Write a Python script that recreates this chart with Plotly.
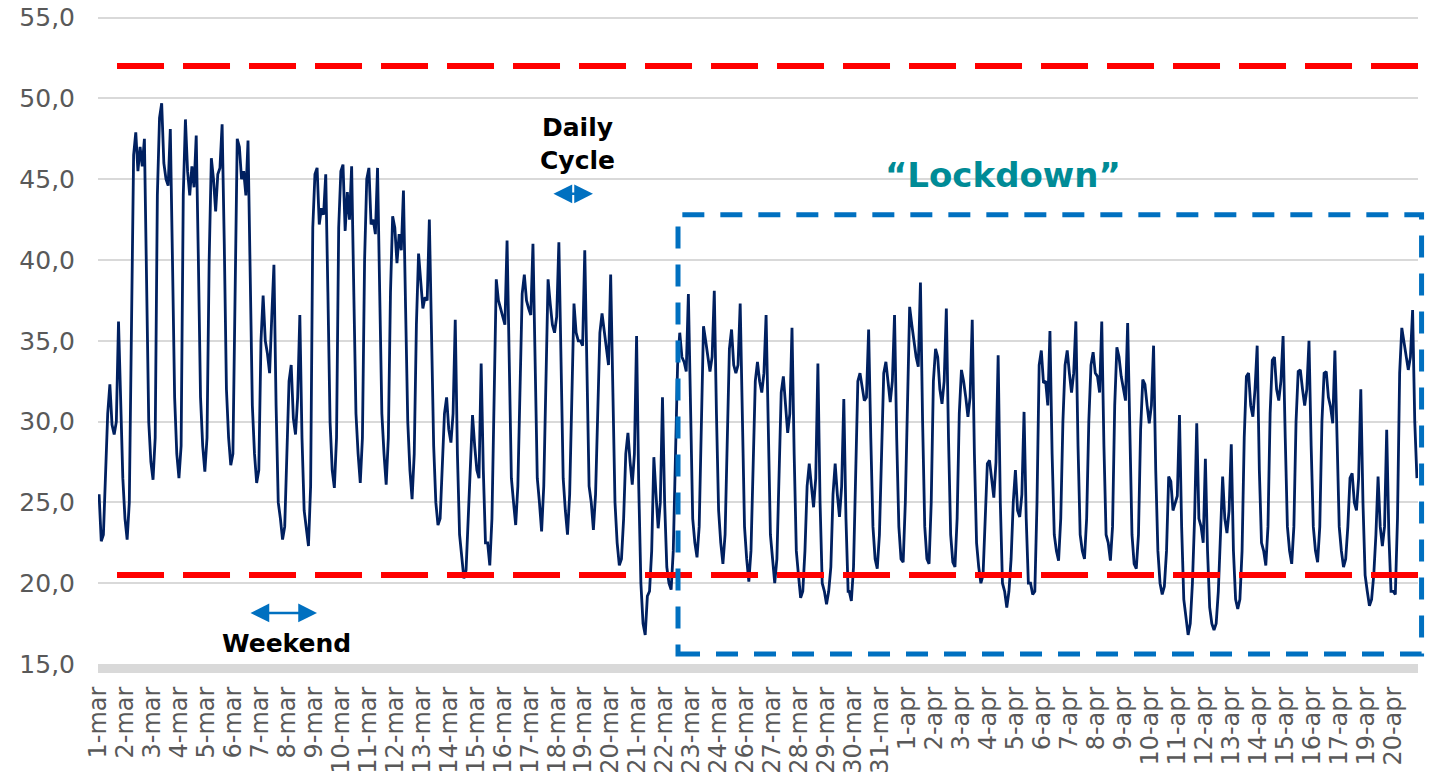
import plotly.graph_objects as go

# ---------------- data ----------------
# hourly-index sample positions within each day (local clock hours)
sample_hours = [1, 3, 5, 7, 9, 11, 13, 15, 17, 19, 21, 23]
# day index from which the series is on summer time (one hour less in the index)
dst_from_day = 29

day_names = [
    "1-mar", "2-mar", "3-mar", "4-mar", "5-mar", "6-mar", "7-mar", "8-mar", "9-mar", "10-mar",
    "11-mar", "12-mar", "13-mar", "14-mar", "15-mar", "16-mar", "17-mar", "18-mar", "19-mar", "20-mar",
    "21-mar", "22-mar", "23-mar", "24-mar", "25-mar", "26-mar", "27-mar", "28-mar", "29-mar", "30-mar",
    "31-mar", "1-apr", "2-apr", "3-apr", "4-apr", "5-apr", "6-apr", "7-apr", "8-apr", "9-apr",
    "10-apr", "11-apr", "12-apr", "13-apr", "14-apr", "15-apr", "16-apr", "17-apr", "18-apr", "19-apr",
    "20-apr",
]

day_profiles = [
    [25.5, 22.6, 23.0, 26.5, 30.5, 32.3, 29.8, 29.2, 30.0, 36.2, 31.5, 26.5],  # 1-mar
    [24.0, 22.7, 25.0, 38.0, 46.5, 47.9, 45.5, 47.0, 45.8, 47.5, 38.0, 30.0],  # 2-mar
    [27.5, 26.4, 29.0, 44.0, 48.8, 49.7, 46.0, 45.0, 44.6, 48.1, 40.0, 31.5],  # 3-mar
    [28.0, 26.5, 28.5, 44.0, 48.7, 45.5, 44.0, 45.8, 44.5, 47.7, 40.0, 31.5],  # 4-mar
    [28.5, 26.9, 29.0, 40.0, 46.3, 45.0, 43.0, 45.3, 45.7, 48.4, 41.0, 32.0],  # 5-mar
    [29.0, 27.3, 28.0, 38.0, 47.5, 47.0, 45.0, 45.5, 44.0, 47.4, 40.0, 31.0],  # 6-mar
    [28.0, 26.2, 27.0, 35.0, 37.8, 35.0, 34.2, 33.0, 36.5, 39.7, 31.0, 25.0],  # 7-mar
    [24.0, 22.7, 23.5, 28.0, 32.5, 33.5, 30.2, 29.2, 31.5, 36.6, 29.0, 24.5],  # 8-mar
    [23.5, 22.3, 26.0, 42.0, 45.3, 45.7, 42.2, 43.2, 42.8, 45.3, 38.0, 30.0],  # 9-mar
    [27.0, 25.9, 29.0, 42.0, 45.5, 45.9, 41.8, 44.2, 42.5, 45.8, 38.0, 30.5],  # 10-mar
    [28.0, 26.2, 29.0, 40.0, 45.0, 45.7, 42.2, 42.5, 41.6, 45.7, 38.0, 30.5],  # 11-mar
    [28.0, 26.1, 29.0, 38.0, 42.7, 42.0, 39.8, 41.6, 40.6, 44.3, 37.0, 30.0],  # 12-mar
    [27.0, 25.2, 28.0, 36.0, 40.4, 38.5, 37.0, 37.7, 37.5, 42.5, 35.0, 28.5],  # 13-mar
    [25.0, 23.6, 24.0, 27.0, 30.5, 31.5, 29.5, 28.7, 30.5, 36.3, 28.0, 23.0],  # 14-mar
    [21.5, 20.3, 20.8, 24.0, 28.0, 30.4, 28.5, 27.0, 26.5, 33.6, 27.0, 22.5],  # 15-mar
    [22.5, 21.1, 24.0, 32.0, 38.8, 37.5, 37.0, 36.5, 36.0, 41.2, 33.0, 26.5],  # 16-mar
    [25.0, 23.6, 26.0, 32.0, 37.9, 39.1, 37.5, 37.0, 36.6, 41.0, 33.0, 26.5],  # 17-mar
    [25.0, 23.2, 26.0, 33.0, 38.8, 37.3, 36.0, 35.5, 36.5, 41.1, 33.0, 26.5],  # 18-mar
    [24.5, 23.0, 25.5, 32.0, 37.3, 35.5, 35.0, 35.0, 34.7, 40.6, 32.5, 26.0],  # 19-mar
    [25.0, 23.3, 25.5, 31.0, 35.5, 36.7, 35.5, 34.5, 33.5, 39.1, 31.5, 25.0],  # 20-mar
    [22.5, 21.1, 21.5, 24.0, 28.0, 29.3, 27.5, 26.1, 28.0, 35.3, 26.0, 20.0],  # 21-mar
    [17.5, 16.8, 19.2, 19.5, 22.0, 27.8, 25.5, 23.4, 25.0, 31.5, 25.0, 21.0],  # 22-mar
    [20.0, 19.6, 22.0, 28.0, 33.5, 35.5, 34.0, 33.7, 33.1, 37.9, 30.0, 24.0],  # 23-mar
    [22.5, 21.6, 23.5, 30.0, 35.9, 35.0, 34.0, 33.1, 34.0, 38.1, 30.5, 24.5],  # 24-mar
    [22.5, 21.2, 23.0, 29.0, 34.5, 35.7, 33.5, 33.0, 33.5, 37.3, 30.0, 23.5],  # 25-mar
    [21.5, 20.1, 22.0, 27.5, 32.5, 33.7, 32.5, 31.8, 33.0, 36.6, 29.0, 23.0],  # 26-mar
    [21.5, 20.0, 21.5, 27.0, 31.8, 32.8, 31.0, 29.3, 30.5, 35.8, 28.0, 22.0],  # 27-mar
    [20.5, 19.1, 19.5, 22.0, 26.0, 27.4, 26.0, 24.7, 26.5, 33.6, 25.0, 20.0],  # 28-mar
    [19.5, 18.7, 19.5, 21.0, 25.5, 27.4, 25.5, 24.1, 26.0, 31.4, 24.0, 19.5],  # 29-mar
    [19.5, 18.9, 21.0, 27.0, 32.5, 33.0, 32.0, 31.3, 31.5, 35.7, 29.0, 23.5],  # 30-mar
    [21.5, 20.9, 23.0, 29.0, 33.0, 33.7, 32.5, 31.2, 32.5, 36.6, 29.0, 23.5],  # 31-mar
    [21.5, 21.3, 25.0, 32.0, 37.1, 36.0, 34.8, 34.0, 33.4, 38.6, 30.0, 23.5],  # 1-apr
    [21.5, 21.2, 25.0, 32.5, 34.5, 34.0, 32.0, 31.1, 32.5, 37.0, 29.0, 23.0],  # 2-apr
    [21.3, 21.0, 24.0, 30.5, 33.2, 32.5, 31.5, 30.3, 31.5, 36.3, 28.0, 22.5],  # 3-apr
    [21.0, 20.0, 20.5, 24.0, 27.4, 27.6, 26.5, 25.3, 27.5, 34.1, 25.0, 20.0],  # 4-apr
    [19.5, 18.5, 19.5, 21.5, 25.0, 27.0, 24.5, 24.1, 25.5, 30.6, 24.0, 20.0],  # 5-apr
    [20.0, 19.3, 19.5, 25.0, 33.5, 34.4, 32.4, 32.5, 31.0, 35.6, 28.0, 23.0],  # 6-apr
    [22.0, 21.4, 24.0, 30.0, 33.5, 34.4, 33.0, 31.8, 33.0, 36.2, 28.5, 23.0],  # 7-apr
    [22.0, 21.5, 24.0, 30.0, 33.5, 34.3, 33.0, 32.8, 31.8, 36.2, 28.5, 23.0],  # 8-apr
    [22.5, 21.4, 23.5, 31.0, 34.6, 34.0, 32.8, 32.0, 31.3, 36.1, 28.5, 23.0],  # 9-apr
    [21.2, 20.9, 23.0, 29.5, 32.6, 32.3, 31.0, 29.9, 31.0, 34.7, 27.0, 22.0],  # 10-apr
    [20.0, 19.3, 19.8, 22.0, 26.6, 26.3, 24.5, 25.0, 25.4, 30.4, 23.5, 19.0],  # 11-apr
    [18.0, 16.8, 17.5, 20.0, 24.0, 29.9, 24.0, 23.5, 22.5, 27.7, 22.0, 18.5],  # 12-apr
    [17.5, 17.1, 17.5, 19.5, 23.0, 26.6, 24.0, 23.1, 24.5, 28.6, 22.0, 19.0],  # 13-apr
    [18.4, 19.0, 22.0, 29.0, 32.8, 33.0, 31.0, 30.3, 32.0, 34.7, 27.0, 22.5],  # 14-apr
    [22.0, 21.1, 23.5, 30.5, 33.8, 34.0, 32.0, 31.3, 32.5, 35.3, 29.0, 23.5],  # 15-apr
    [22.0, 21.2, 23.5, 30.0, 33.1, 33.2, 32.0, 31.0, 32.0, 35.0, 28.5, 23.5],  # 16-apr
    [22.0, 21.3, 23.5, 30.0, 33.0, 33.1, 31.5, 30.9, 29.9, 34.4, 29.0, 23.5],  # 17-apr
    [22.0, 21.0, 21.5, 23.5, 26.5, 26.8, 25.0, 24.5, 26.5, 32.0, 25.0, 20.5],  # 18-apr
    [19.5, 18.6, 19.0, 20.5, 23.0, 26.6, 23.5, 22.3, 23.5, 29.5, 23.0, 19.5],  # 19-apr
    [19.5, 19.3, 24.0, 33.0, 35.8, 35.0, 34.0, 33.2, 34.0, 36.9, 30.0, 26.5],  # 20-apr
]

# category-axis labels (one every 25 hourly samples)
tick_labels = [
    "1-mar", "2-mar", "3-mar", "4-mar", "5-mar", "6-mar", "7-mar", "8-mar", "9-mar", "10-mar",
    "11-mar", "12-mar", "13-mar", "14-mar", "15-mar", "16-mar", "17-mar", "18-mar", "19-mar", "20-mar",
    "21-mar", "22-mar", "23-mar", "24-mar", "26-mar", "27-mar", "28-mar", "29-mar", "30-mar", "31-mar",
    "1-apr", "2-apr", "3-apr", "4-apr", "5-apr", "6-apr", "7-apr", "8-apr", "9-apr", "10-apr",
    "11-apr", "12-apr", "13-apr", "14-apr", "15-apr", "16-apr", "17-apr", "19-apr", "20-apr",
]
label_every = 25
total_samples = 1223

y_ticks = [15, 20, 25, 30, 35, 40, 45, 50, 55]
y_range = [15, 55.1]
upper_limit = 52.0
lower_limit = 20.5
lockdown_top = 42.8
lockdown_bottom = 15.62

# ---------------- build series ----------------
x_idx, y_val = [], []
for d, profile in enumerate(day_profiles):
    shift = 1 if d >= dst_from_day else 0
    for h, v in zip(sample_hours, profile):
        x_idx.append(24 * d + h - shift)
        y_val.append(v)

FONT = "DejaVu Sans"
BLUE = "#0070C0"

fig = go.Figure()
fig.add_trace(go.Scatter(
    x=x_idx, y=y_val, mode="lines",
    line=dict(color="#002060", width=2.8),
    hoverinfo="skip", showlegend=False,
))

# threshold lines
for lim in (upper_limit, lower_limit):
    fig.add_shape(type="line", xref="paper", yref="y",
                  x0=0.0144, x1=1.02, y0=lim, y1=lim,
                  line=dict(color="#FF0000", width=6, dash="47px,19px"))

# lockdown box
fig.add_shape(type="rect", xref="paper", yref="y",
              x0=0.4394, x1=1.0027, y0=lockdown_bottom, y1=lockdown_top,
              line=dict(color=BLUE, width=5, dash="22px,16px"))

# annotations
fig.add_annotation(x=443.8, y=47.2, xref="x", yref="y", text="Daily<br>Cycle",
                   showarrow=False, font=dict(family=FONT, size=25, color="#000000", weight="bold"))
fig.add_annotation(x=458.6, y=44.1, ax=420.6, ay=44.1, xref="x", yref="y", axref="x", ayref="y",
                   text="", showarrow=True, arrowhead=2, arrowside="end+start",
                   arrowsize=1.5, arrowwidth=2.5, arrowcolor=BLUE, standoff=0, startstandoff=0)
fig.add_annotation(x=175.1, y=16.24, xref="x", yref="y", text="Weekend",
                   showarrow=False, font=dict(family=FONT, size=25, color="#000000", weight="bold"))
fig.add_annotation(x=202.9, y=18.16, ax=139.9, ay=18.16, xref="x", yref="y", axref="x", ayref="y",
                   text="", showarrow=True, arrowhead=2, arrowside="end+start",
                   arrowsize=1.5, arrowwidth=2.5, arrowcolor=BLUE, standoff=0, startstandoff=0)
fig.add_annotation(x=838.5, y=45.28, xref="x", yref="y", text="\u201cLockdown\u201d",
                   showarrow=False, font=dict(family=FONT, size=34, color="#008B96", weight="bold"))

# the page body adds an 8px offset; the figure fills the rest of the window
fig.update_layout(
    width=1435, height=767,
    margin=dict(l=90, r=25, t=8, b=111, autoexpand=False),
    paper_bgcolor="white", plot_bgcolor="white",
    separators=",.",
    showlegend=False,
    font=dict(family=FONT, color="#595959"),
)
fig.update_xaxes(
    range=[0, total_samples], automargin=False,
    tickmode="array",
    tickvals=[label_every * k for k in range(len(tick_labels))],
    ticktext=tick_labels,
    tickangle=-90,
    tickfont=dict(family=FONT, size=24, color="#595959"),
    showgrid=False, zeroline=False,
    showline=True, linecolor="#D9D9D9", linewidth=9,
    ticks="", ticklabelstandoff=4, ticklabeloverflow="allow",
)
fig.update_yaxes(
    range=y_range, automargin=False,
    tickmode="array", tickvals=y_ticks, tickformat=".1f",
    tickfont=dict(family=FONT, size=25, color="#595959"),
    showgrid=True, gridcolor="#D9D9D9", gridwidth=1.5,
    zeroline=False, showline=False, ticks="", ticklabelstandoff=22,
    ticklabeloverflow="allow",
)

fig.write_html("out.html")
